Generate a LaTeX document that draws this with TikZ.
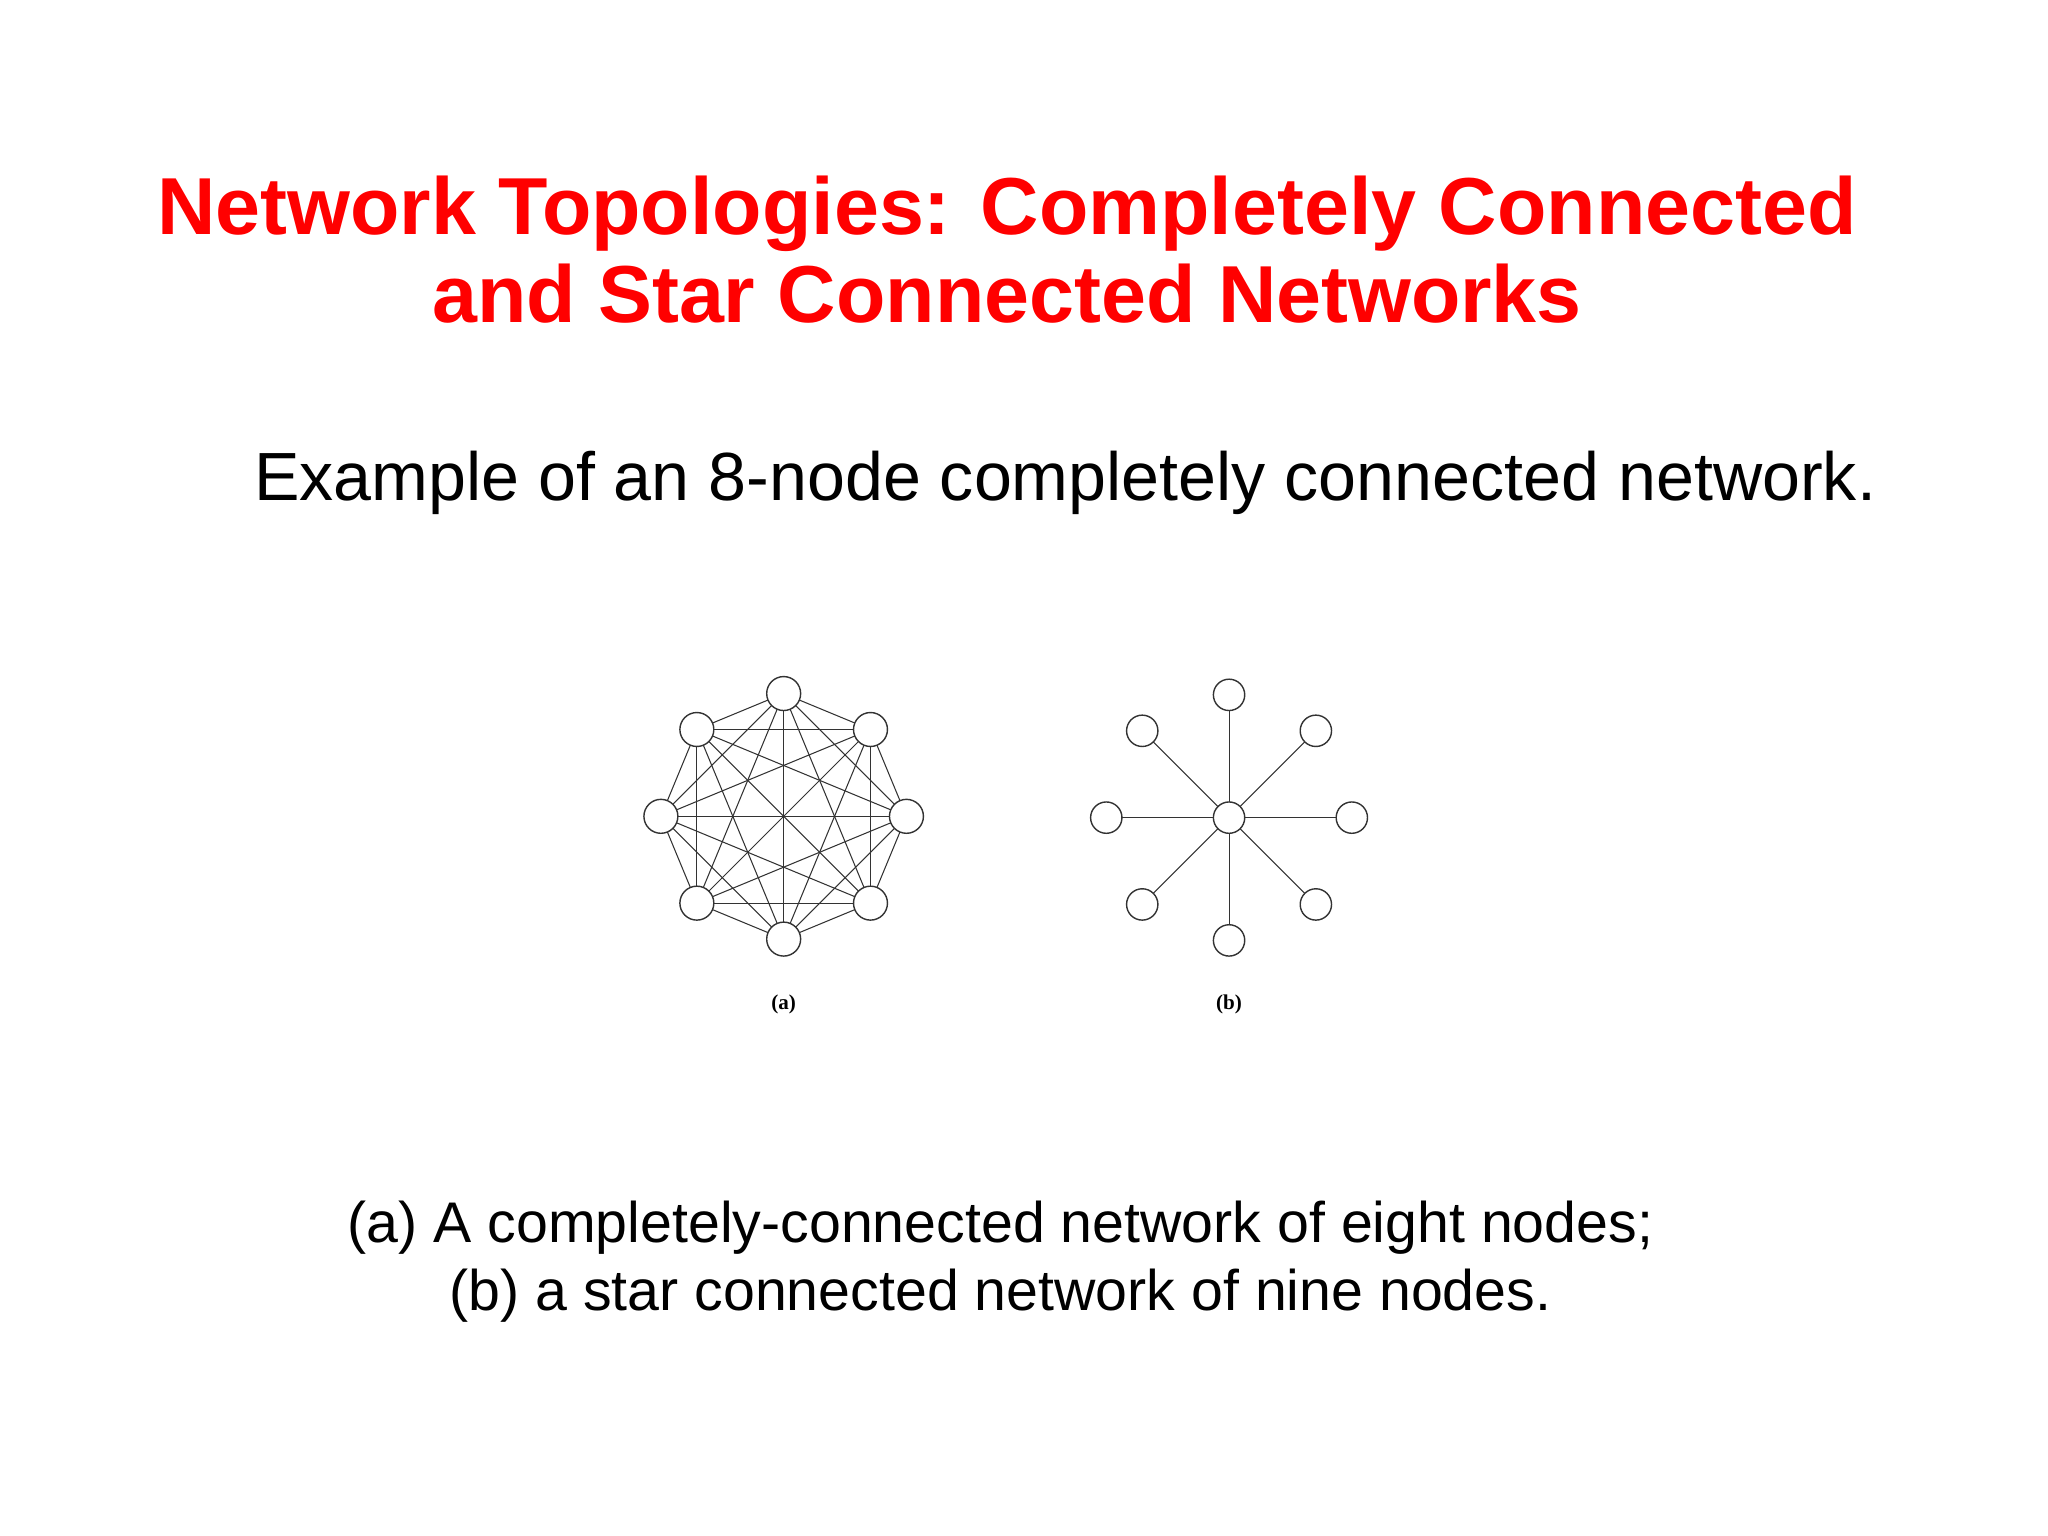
\documentclass[tikz,border=0pt]{standalone}
\usepackage{fontspec}
\setmainfont{Liberation Sans}
\newfontfamily\serifx{Liberation Serif}
\begin{document}
\begin{tikzpicture}[x=0.01306cm,y=-0.01306cm,
  vtx/.style={circle,draw=black!80,line width=0.4pt,inner sep=0pt,minimum size=26*0.01306cm,fill=white},
  edge/.style={line width=0.3pt,draw=black!80}]
\useasboundingbox (0,0) rectangle (1568,1176);
\node[text=red,font=\bfseries\fontsize{23}{25.2}\selectfont,align=center] (title) at (771,191) {Network Topologies: Completely Connected\\and Star Connected Networks};
\node[font=\fontsize{19.4}{23}\selectfont,anchor=west] (sub) at (185,370) {Example of an 8-node completely connected network.};
% (a)
\foreach \i in {0,...,7}{\coordinate (p\i) at ({600+94*cos(90+45*\i)},{625-94*sin(90+45*\i)});}
\foreach \i in {0,...,7}{\foreach \j in {0,...,7}{\ifnum\i<\j \draw[edge] (p\i)--(p\j);\fi}}
\foreach \i in {0,...,7}{\node[vtx] (a\i) at (p\i) {};}
% (b)
\coordinate (c) at (941,626);
\foreach \i in {0,...,7}{\coordinate (q\i) at ({941+94*cos(90+45*\i)},{626-94*sin(90+45*\i)});
  \draw[edge] (c)--(q\i);}
\node[vtx,minimum size=24*0.01306cm] (b) at (c) {};
\foreach \i in {0,...,7}{\node[vtx,minimum size=24*0.01306cm] (b\i) at (q\i) {};}
\node[font=\serifx\bfseries\fontsize{6}{7}\selectfont] (la) at (600,769) {(a)};
\node[font=\serifx\bfseries\fontsize{6}{7}\selectfont] (lb) at (941,769) {(b)};
\node[font=\fontsize{16.3}{19.4}\selectfont,align=center] (cap) at (766,966) {(a) A completely-connected network of eight nodes;\\(b) a star connected network of nine nodes.};
\end{tikzpicture}
\end{document}
